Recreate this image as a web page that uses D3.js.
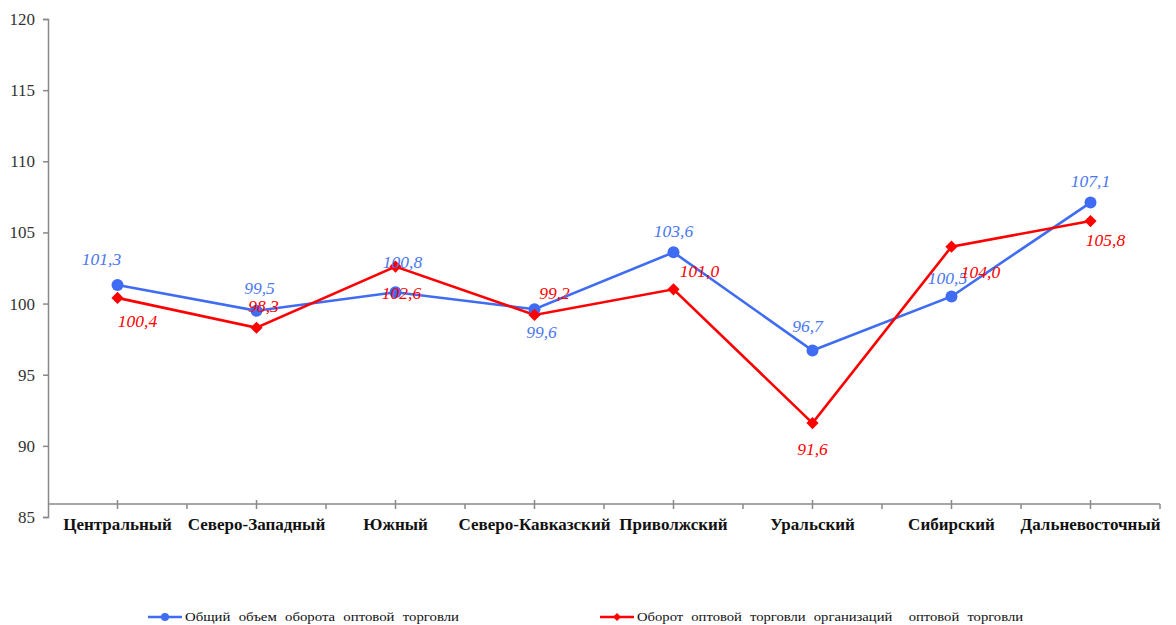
<!DOCTYPE html>
<html>
<head>
<meta charset="utf-8">
<script src="https://cdn.jsdelivr.net/npm/d3@7"></script>
<style>
  body { margin: 0; background: #fff; }
  svg { display: block; }
</style>
</head>
<body>
<svg id="chart_svg" width="1176" height="625"></svg>
<script>
// regions (categories)
const regions = ["Центральный", "Северо-Западный", "Южный", "Северо-Кавказский",
  "Приволжский", "Уральский", "Сибирский", "Дальневосточный"];

// series values
const totalTurnover = [101.3, 99.5, 100.8, 99.6, 103.6, 96.7, 100.5, 107.1];
const orgTurnover = [100.4, 98.3, 102.6, 99.2, 101.0, 91.6, 104.0, 105.8];

const seriesNames = ["Общий объем оборота оптовой торговли",
  "Оборот оптовой торговли организаций  оптовой торговли"];

const yTicks = [85, 90, 95, 100, 105, 110, 115, 120];

// label offsets (px) – placement of the data labels
const blueLabelPos = [[-16, -20], [3, -17], [7, -24], [7, 29], [0, -15], [-5, -19], [-4, -12], [0, -16]];
const redLabelPos = [[20, 29], [7, -16], [6, 32], [20, -16], [26, -12], [0, 32], [29, 31], [15, 25]];

const svg = d3.select("#chart_svg");
const blue = "#3f6cf2", red = "#ff0000";
const serif = "'Liberation Serif', 'Times New Roman', serif";

const x = d3.scalePoint().domain(regions).range([48, 1160]).padding(0.5);
const y = d3.scaleLinear().domain([85, 120]).range([517, 19]);

// y axis
const yAxis = svg.append("g")
  .attr("transform", "translate(48,0)")
  .call(d3.axisLeft(y).tickValues(yTicks).tickSize(5).tickPadding(8).tickFormat(d3.format("d")));
yAxis.select(".domain").attr("stroke", "#888").attr("stroke-width", 1.5);
yAxis.selectAll(".tick line").attr("stroke", "#888").attr("stroke-width", 1.5);
yAxis.selectAll(".tick text")
  .attr("font-family", serif).attr("font-size", 17).attr("fill", "#333");

// x axis line (sits a bit above the 85 level, as in the source)
const xAxisY = 504;
const step = x.step();
const xTickPos = d3.range(1, regions.length * 2 + 1).map(i => 48 + i * step / 2);
const xAxis = svg.append("g");
xAxis.append("line")
  .attr("x1", 48).attr("x2", 1160).attr("y1", xAxisY).attr("y2", xAxisY)
  .attr("stroke", "#888").attr("stroke-width", 1.5);
xAxis.selectAll("line.tk")
  .data(xTickPos)
  .enter().append("line")
  .attr("class", "tk")
  .attr("x1", d => d).attr("x2", d => d)
  .attr("y1", (d, i) => i % 2 === 0 ? xAxisY - 4 : xAxisY)
  .attr("y2", xAxisY + 5)
  .attr("stroke", "#888").attr("stroke-width", 1.5);
xAxis.selectAll("text")
  .data(regions)
  .enter().append("text")
  .attr("x", d => x(d))
  .attr("y", 530)
  .attr("text-anchor", "middle")
  .attr("font-family", serif)
  .attr("font-weight", "bold")
  .attr("font-size", 17)
  .attr("fill", "#111")
  .text(d => d);

const line = d3.line()
  .x((d, i) => x(regions[i]))
  .y(d => y(d));

// blue series
svg.append("path")
  .datum(totalTurnover)
  .attr("d", line)
  .attr("fill", "none")
  .attr("stroke", blue)
  .attr("stroke-width", 2.6);

// red series
svg.append("path")
  .datum(orgTurnover)
  .attr("d", line)
  .attr("fill", "none")
  .attr("stroke", red)
  .attr("stroke-width", 2.6);

svg.selectAll("circle.pt")
  .data(totalTurnover)
  .enter().append("circle")
  .attr("class", "pt")
  .attr("cx", (d, i) => x(regions[i]))
  .attr("cy", d => y(d))
  .attr("r", 6)
  .attr("fill", blue);

const diamond = d3.symbol().type(d3.symbolDiamond2).size(95);
svg.selectAll("path.pt")
  .data(orgTurnover)
  .enter().append("path")
  .attr("class", "pt")
  .attr("d", diamond)
  .attr("transform", (d, i) => "translate(" + x(regions[i]) + "," + y(d) + ")")
  .attr("fill", red);

const fmt = v => v.toFixed(1).replace(".", ",");

svg.selectAll("text.lb-blue")
  .data(totalTurnover)
  .enter().append("text")
  .attr("class", "lb-blue")
  .attr("x", (d, i) => x(regions[i]) + blueLabelPos[i][0])
  .attr("y", (d, i) => y(d) + blueLabelPos[i][1])
  .attr("text-anchor", "middle")
  .attr("font-family", serif)
  .attr("font-style", "italic")
  .attr("font-size", 17.5)
  .attr("fill", "#4a78f0")
  .text(fmt);

svg.selectAll("text.lb-red")
  .data(orgTurnover)
  .enter().append("text")
  .attr("class", "lb-red")
  .attr("x", (d, i) => x(regions[i]) + redLabelPos[i][0])
  .attr("y", (d, i) => y(d) + redLabelPos[i][1])
  .attr("text-anchor", "middle")
  .attr("font-family", serif)
  .attr("font-style", "italic")
  .attr("font-size", 17.5)
  .attr("fill", red)
  .text(fmt);

// legend
const legend = svg.selectAll("g.legend")
  .data([{ name: seriesNames[0], color: blue, shape: "circle", x: 148, len: 274 },
         { name: seriesNames[1], color: red, shape: "diamond", x: 600, len: 386 }])
  .enter().append("g")
  .attr("class", "legend")
  .attr("transform", d => "translate(" + d.x + ",617)");
legend.append("line")
  .attr("x1", 0).attr("x2", 34).attr("y1", 0).attr("y2", 0)
  .attr("stroke", d => d.color).attr("stroke-width", 2.6);
legend.each(function (d) {
  const g = d3.select(this);
  if (d.shape === "circle") {
    g.append("circle").attr("cx", 17).attr("cy", 0).attr("r", 4).attr("fill", d.color);
  } else {
    g.append("path").attr("d", d3.symbol().type(d3.symbolDiamond2).size(40))
      .attr("transform", "translate(17,0)").attr("fill", d.color);
  }
});
legend.append("text")
  .attr("x", 37)
  .attr("y", 4)
  .attr("font-family", serif)
  .attr("font-size", 13)
  .attr("word-spacing", 4)
  .attr("textLength", d => d.len)
  .attr("lengthAdjust", "spacingAndGlyphs")
  .attr("fill", "#111")
  .style("white-space", "pre")
  .text(d => d.name);
</script>
</body>
</html>
